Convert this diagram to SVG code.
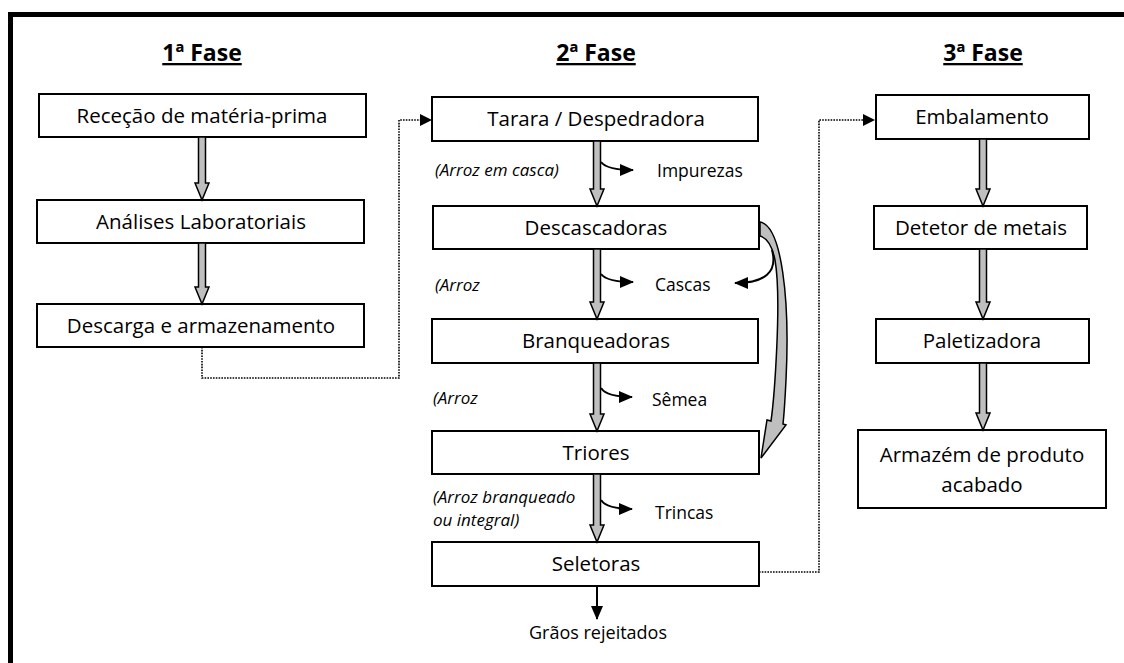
<svg xmlns="http://www.w3.org/2000/svg" width="1124" height="663" viewBox="0 0 1124 663">
<style>
  .box{fill:#fff;stroke:#000;stroke-width:2}
  .t{font-family:"Open Sans","Liberation Sans",sans-serif;font-size:20.5px;fill:#000;text-anchor:middle}
  .h{font-family:"Open Sans","Liberation Sans",sans-serif;font-size:23px;font-weight:bold;fill:#000;text-anchor:middle;text-decoration:underline}
  .i{font-family:"Open Sans","Liberation Sans",sans-serif;font-size:17px;font-style:italic;fill:#000}
  .l{font-family:"Open Sans","Liberation Sans",sans-serif;font-size:17.5px;fill:#000}
  .g{fill:#bfbfbf;stroke:#000;stroke-width:1.5;stroke-linejoin:miter}
  .b{fill:none;stroke:#000;stroke-width:2}
  .d{fill:none;stroke:#000;stroke-width:1.6;stroke-dasharray:1.6 1.2}
</style>
<defs>
  <marker id="ah" markerUnits="userSpaceOnUse" markerWidth="14" markerHeight="14" viewBox="0 0 14 14" refX="13" refY="7" orient="auto">
    <path d="M0,1 L14,7 L0,13 Z" fill="#000"/>
  </marker>
</defs>
<rect width="1124" height="663" fill="#fff"/>
<path d="M10.5,663 V14.5 H1124" fill="none" stroke="#000" stroke-width="5"/>

<g id="titles">
  <text class="h" x="202" y="61">1ª Fase</text>
  <text class="h" x="596" y="61">2ª Fase</text>
  <text class="h" x="983" y="61">3ª Fase</text>
</g>

<g id="n1"><rect class="box" x="39" y="94" width="327" height="43"/><text class="t" x="202" y="123">Receção de matéria-prima</text></g>
<g id="n2"><rect class="box" x="37" y="200" width="327" height="43"/><text class="t" x="201" y="229">Análises Laboratoriais</text></g>
<g id="n3"><rect class="box" x="37" y="304" width="327" height="43"/><text class="t" x="201" y="333">Descarga e armazenamento</text></g>

<g id="n4"><rect class="box" x="432" y="97" width="326" height="44"/><text class="t" x="596" y="126">Tarara / Despedradora</text></g>
<g id="n5"><rect class="box" x="433" y="206" width="326" height="43"/><text class="t" x="596" y="235">Descascadoras</text></g>
<g id="n6"><rect class="box" x="432" y="319" width="326" height="44"/><text class="t" x="596" y="348">Branqueadoras</text></g>
<g id="n7"><rect class="box" x="432" y="431" width="327" height="43"/><text class="t" x="596" y="460">Triores</text></g>
<g id="n8"><rect class="box" x="432" y="542" width="327" height="44"/><text class="t" x="596" y="571">Seletoras</text></g>

<g id="n9"><rect class="box" x="876" y="95" width="213" height="44"/><text class="t" x="982" y="124">Embalamento</text></g>
<g id="n10"><rect class="box" x="874" y="206" width="213" height="43"/><text class="t" x="981" y="235">Detetor de metais</text></g>
<g id="n11"><rect class="box" x="876" y="319" width="213" height="44"/><text class="t" x="982" y="348">Paletizadora</text></g>
<g id="n12"><rect class="box" x="858" y="430" width="248" height="78"/><text class="t" x="982" y="462">Armazém de produto</text><text class="t" x="982" y="492">acabado</text></g>

<g id="labels">
  <text class="i" x="435" y="176">(Arroz em casca)</text>
  <text class="i" x="435" y="291">(Arroz</text>
  <text class="i" x="433" y="404">(Arroz</text>
  <text class="i" x="433" y="503">(Arroz branqueado</text>
  <text class="i" x="433" y="526">ou integral)</text>
  <text class="l" x="657" y="177">Impurezas</text>
  <text class="l" x="655" y="291">Cascas</text>
  <text class="l" x="652" y="406">Sêmea</text>
  <text class="l" x="655" y="519">Trincas</text>
  <text class="l" x="598" y="639" text-anchor="middle" style="font-size:18px">Grãos rejeitados</text>
</g>

<g id="connectors">
  <polygon class="g" points="198.5,137 205.5,137 205.5,183 209,183 202,200 195,183 198.5,183"/>
  <polygon class="g" points="198.5,243 205.5,243 205.5,287 209,287 202,304 195,287 198.5,287"/>
  <polygon class="g" points="593.5,141 600.5,141 600.5,189 604,189 597,206 590,189 593.5,189"/>
  <polygon class="g" points="593.5,249 600.5,249 600.5,302 604,302 597,319 590,302 593.5,302"/>
  <polygon class="g" points="593.5,363 600.5,363 600.5,414 604,414 597,431 590,414 593.5,414"/>
  <polygon class="g" points="593.5,474 600.5,474 600.5,525 604,525 597,542 590,525 593.5,525"/>
  <polygon class="g" points="979.5,139 986.5,139 986.5,189 990,189 983,206 976,189 979.5,189"/>
  <polygon class="g" points="979.5,249 986.5,249 986.5,302 990,302 983,319 976,302 979.5,302"/>
  <polygon class="g" points="979.5,363 986.5,363 986.5,413 990,413 983,430 976,413 979.5,413"/>
  <path class="b" d="M601,162 Q607,170 633,170" marker-end="url(#ah)"/>
  <path class="b" d="M601,274 Q607,282 633,282" marker-end="url(#ah)"/>
  <path class="b" d="M601,388 Q607,397 632,397" marker-end="url(#ah)"/>
  <path class="b" d="M601,500 Q607,509 632,509" marker-end="url(#ah)"/>
  <path class="b" d="M597,586 L597,619" marker-end="url(#ah)"/>
  <path class="g" d="M760,222 C782,226 790,300 786,380 C785,400 784,415 783,424 L786,425 L761,458 L767,420 L771,421 C774,400 782,300 775,260 C772,245 767,238 760,236 Z"/>
  <path class="b" d="M772,250 C778,272 765,283 735,283" marker-end="url(#ah)"/>
  <path class="d" d="M202,347 V378 H399 V120 H420"/>
  <path d="M420,114 L432,120 L420,126 Z" fill="#000"/>
  <path class="d" d="M759,572 H819 V120 H863"/>
  <path d="M863,114 L875,120 L863,126 Z" fill="#000"/>
</g>
</svg>
